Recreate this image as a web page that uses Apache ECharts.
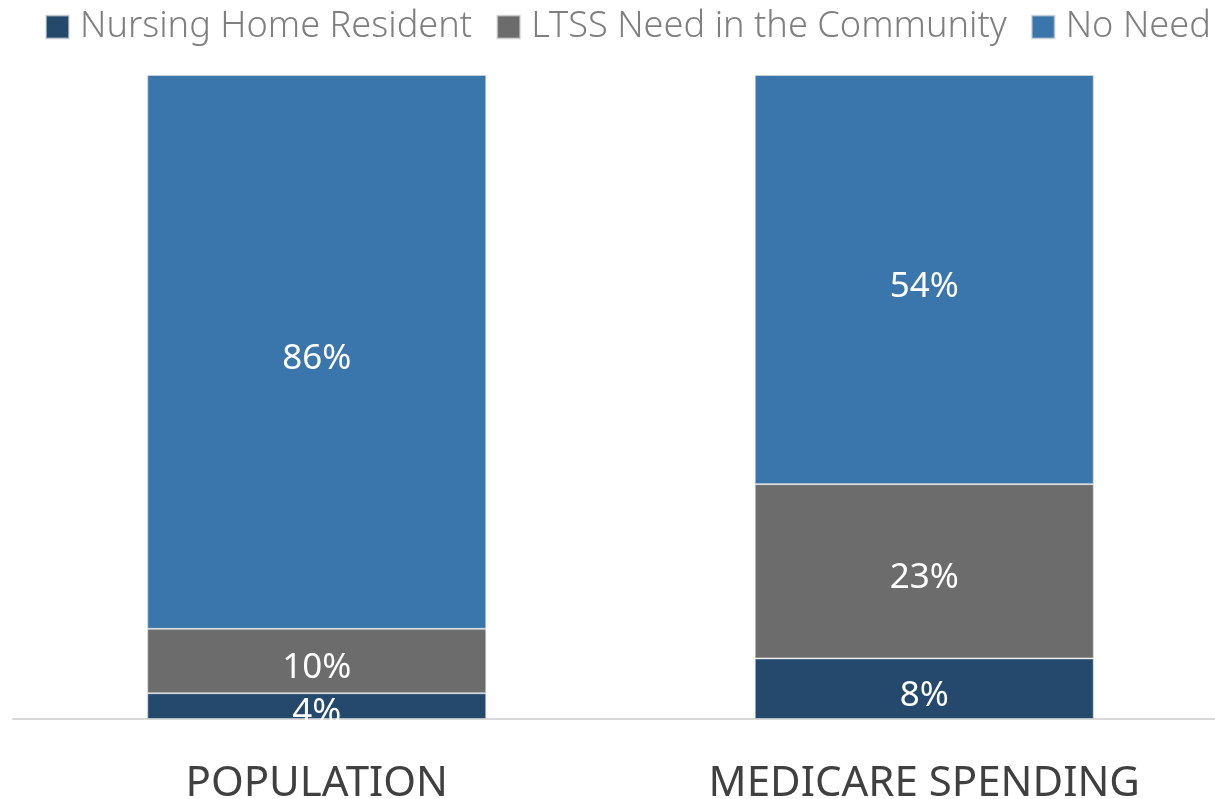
<!DOCTYPE html>
<html>
<head>
<meta charset="utf-8">
<script src="https://cdn.jsdelivr.net/npm/echarts@6/dist/echarts.min.js"></script>
<style>
  html, body { margin: 0; padding: 0; background: #fff; }
  #chart { width: 1215px; height: 799px; }
</style>
</head>
<body>
<div id="chart"></div>
<script>
// 类别与数据
var categories = ['POPULATION', 'MEDICARE SPENDING'];
var seriesNames = ['Nursing Home Resident', 'LTSS Need in the Community', 'No Need'];
var nursingHome = [4, 8];
var communityNeed = [10, 23];
var noNeed = [86, 54];
var colors = ['#24496d', '#6c6c6c', '#3a76ab'];

// 每个类别按总和归一化为100%
var totals = categories.map(function (c, i) {
  return nursingHome[i] + communityNeed[i] + noNeed[i];
});
function toShare(values) {
  return values.map(function (v, i) {
    return { value: v / totals[i] * 100, raw: v };
  });
}
var seriesValues = [nursingHome, communityNeed, noNeed];

var chart = echarts.init(document.getElementById('chart'));

var option = {
  backgroundColor: '#ffffff',
  color: colors,
  animation: false,
  textStyle: { fontFamily: 'Noto Sans' },
  legend: {
    data: seriesNames,
    left: 45,
    top: 9,
    width: 1500,
    padding: 0,
    icon: 'rect',
    itemWidth: 23,
    itemHeight: 23,
    itemGap: 24,
    textStyle: {
      fontSize: 36.2,
      fontWeight: 300,
      color: '#7f7f7f',
      padding: [0, 0, 0, 6]
    }
  },
  grid: {
    left: 13,
    width: 1215,
    top: 75,
    bottom: 80,
    containLabel: false,
    outerBoundsMode: 'none'
  },
  xAxis: {
    type: 'category',
    data: categories,
    axisLine: { lineStyle: { color: '#d9d9d9', width: 2 } },
    axisTick: { show: false },
    axisLabel: {
      fontSize: 42,
      color: '#404040',
      margin: 44
    }
  },
  yAxis: {
    type: 'value',
    min: 0,
    max: 100,
    show: false,
    splitLine: { show: false }
  },
  series: seriesNames.map(function (name, k) {
    return {
      name: name,
      type: 'bar',
      stack: 'total',
      barWidth: 339,
      data: toShare(seriesValues[k]),
      itemStyle: { borderColor: 'rgba(220,220,220,0.6)', borderWidth: 1 },
      label: {
        show: true,
        position: 'inside',
        offset: [0, 7],
        color: '#ffffff',
        fontSize: 35,
        formatter: function (p) { return p.data.raw + '%'; }
      }
    };
  }),
  // 遮住坐标轴下方溢出的标签
  graphic: [{
    type: 'rect',
    z: 100,
    shape: { x: 0, y: 720, width: 1215, height: 30 },
    style: { fill: '#ffffff' }
  }]
};

chart.setOption(option);
</script>
</body>
</html>
